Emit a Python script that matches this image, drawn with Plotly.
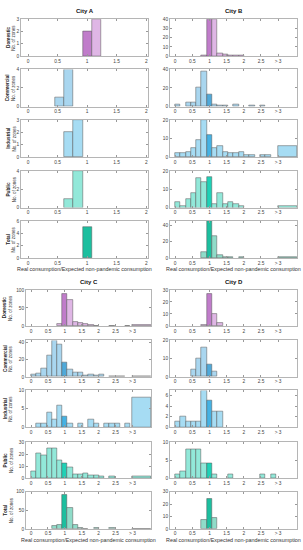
import plotly.graph_objects as go

# ---------------- data ----------------
CITIES = ["City A", "City B", "City C", "City D"]
CATEGORIES = ["Domestic", "Commercial", "Industrial", "Public", "Total"]

BIN_LEFT = [-0.0075, 0.1475, 0.3025, 0.4575, 0.6125, 0.7675, 0.9225, 1.0775, 1.2325, 1.3875,
            1.5425, 1.6975, 1.8525, 2.0075, 2.1625, 2.3175, 2.4725, 2.6275, 2.7825, 3.0]
BIN_RIGHT = [0.1475, 0.3025, 0.4575, 0.6125, 0.7675, 0.9225, 1.0775, 1.2325, 1.3875, 1.5425,
             1.6975, 1.8525, 2.0075, 2.1625, 2.3175, 2.4725, 2.6275, 2.7825, 2.9375, 3.55]
HIGHLIGHT_BIN = 6  # bin containing 1

X_TICKS_AB = [0, 0.5, 1, 1.5, 2, 2.5, 3]
X_TICKTEXT = ["0", "0.5", "1", "1.5", "2", "2.5", "> 3"]
X_TICKS_A = [0, 0.5, 1, 1.5, 2]
X_TICKTEXT_A = ["0", "0.5", "1", "1.5", "2"]

A_DOM = [0, 0, 0, 0, 0, 0, 2, 3, 0, 0, 0, 0, 0, 0, 0, 0, 0, 0, 0, 0]
A_COM = [0, 0, 0, 1, 4, 0, 0, 0, 0, 0, 0, 0, 0, 0, 0, 0, 0, 0, 0, 0]
A_IND = [0, 0, 0, 0, 2, 3, 0, 0, 0, 0, 0, 0, 0, 0, 0, 0, 0, 0, 0, 0]
A_PUB = [0, 0, 0, 0, 1, 4, 0, 0, 0, 0, 0, 0, 0, 0, 0, 0, 0, 0, 0, 0]
A_TOT = [0, 0, 0, 0, 0, 0, 5, 0, 0, 0, 0, 0, 0, 0, 0, 0, 0, 0, 0, 0]

B_DOM = [0, 0, 0, 0, 0, 1, 40, 40, 3, 2, 1, 1, 1, 0, 0, 0, 0, 0, 0, 0]
B_COM = [2, 0, 4, 4, 21, 38, 13, 2, 1, 1, 0, 2, 0, 0, 1, 0, 1, 0, 0, 0]
B_IND = [2, 2, 3, 5, 9, 20, 12, 5, 6, 3, 2, 2, 3, 1, 1, 0, 1, 1, 0, 6]
B_PUB = [3, 1, 5, 8, 16, 14, 17, 2, 8, 2, 3, 2, 1, 0, 0, 0, 0, 0, 0, 1]
B_TOT = [0, 0, 0, 0, 0, 8, 45, 27, 4, 2, 1, 0, 1, 0, 0, 0, 0, 0, 0, 1]

C_DOM = [0, 0, 0, 0, 0, 5, 90, 72, 11, 8, 5, 2, 1, 0, 0, 1, 0, 0, 1, 3]
C_COM = [3, 4, 10, 25, 42, 37, 17, 9, 5, 5, 2, 3, 2, 3, 0, 1, 1, 1, 0, 1]
C_IND = [0, 1, 1, 4, 2, 6, 3, 1, 0, 1, 0, 2, 1, 0, 1, 1, 1, 0, 1, 8]
C_PUB = [6, 21, 19, 25, 25, 15, 12, 9, 3, 3, 4, 2, 2, 1, 0, 1, 0, 0, 0, 1]
C_TOT = [0, 0, 0, 0, 7, 12, 93, 57, 12, 2, 1, 0, 2, 0, 0, 2, 0, 0, 0, 1]

D_DOM = [0, 0, 0, 0, 0, 1, 27, 10, 3, 0, 0, 0, 0, 0, 0, 0, 0, 0, 0, 0]
D_COM = [0, 0, 0, 4, 10, 16, 7, 3, 0, 0, 0, 0, 0, 0, 0, 0, 0, 0, 0, 0]
D_IND = [1, 2, 1, 1, 1, 7, 5, 3, 3, 0, 0, 0, 0, 0, 0, 0, 0, 0, 0, 0]
D_PUB = [1, 2, 8, 8, 8, 4, 4, 1, 0, 0, 1, 0, 0, 0, 0, 0, 1, 0, 1, 0]
D_TOT = [0, 0, 0, 0, 0, 7, 24, 9, 0, 0, 0, 0, 0, 0, 0, 0, 0, 0, 0, 0]

COUNTS = {
    "City A": [A_DOM, A_COM, A_IND, A_PUB, A_TOT],
    "City B": [B_DOM, B_COM, B_IND, B_PUB, B_TOT],
    "City C": [C_DOM, C_COM, C_IND, C_PUB, C_TOT],
    "City D": [D_DOM, D_COM, D_IND, D_PUB, D_TOT],
}
Y_MAX = {
    "City A": [3, 4, 3, 4, 6],
    "City B": [40, 40, 20, 20, 45],
    "City C": [100, 42, 10, 30, 100],
    "City D": [30, 20, 7, 10, 30],
}
Y_DTICK = {
    "City A": [1, 2, 1, 2, 2],
    "City B": [10, 20, 10, 10, 20],
    "City C": [50, 20, 5, 10, 50],
    "City D": [10, 10, 2, 5, 10],
}

# ---------------- style ----------------
LIGHT = ["#dfb6e5", "#a9d6ef", "#a6dcf3", "#92e8d9", "#8fdcc9"]
DARK = ["#c07cca", "#4fa9d9", "#45b2e3", "#1fd1b6", "#1cbf9f"]

W, H = 303, 550
X_PIX = {"City A": (21, 148), "City B": (170, 297), "City C": (26, 151), "City D": (170, 297)}
ROWS_TOP = [(17.5, 54.5), (68, 105.5), (119, 156.5), (170.5, 207.5), (221, 258.5)]
ROWS_BOT = [(290.5, 327), (341.5, 378.3), (392, 429), (444.3, 480.3), (494.3, 531.7)]
ROWS = {"City A": ROWS_TOP, "City B": ROWS_TOP, "City C": ROWS_BOT, "City D": ROWS_BOT}
FONT = "Liberation Sans, Arial, sans-serif"

centers = [(l + r) / 2 for l, r in zip(BIN_LEFT, BIN_RIGHT)]
widths = [r - l for l, r in zip(BIN_LEFT, BIN_RIGHT)]

fig = go.Figure()
layout = {}
annotations = []
n = 0
for city in CITIES:
    x0, x1 = X_PIX[city]
    for ci, cat in enumerate(CATEGORIES):
        n += 1
        ax = "" if n == 1 else str(n)
        counts = COUNTS[city][ci]
        xs, ys, ws, cols = [], [], [], []
        for i, c in enumerate(counts):
            if c > 0:
                xs.append(centers[i]); ys.append(c); ws.append(widths[i])
                cols.append(DARK[ci] if i == HIGHLIGHT_BIN else LIGHT[ci])
        fig.add_trace(go.Bar(x=xs, y=ys, width=ws, marker=dict(color=cols, line=dict(color="#555", width=0.5)),
                             xaxis="x" + ax, yaxis="y" + ax, showlegend=False, hoverinfo="x+y"))
        t, b = ROWS[city][ci]
        is_a = city == "City A"
        layout["xaxis" + ax] = dict(
            domain=[x0 / W, x1 / W], anchor="y" + ax,
            range=[-0.12, 2.03] if is_a else [-0.15, 3.55],
            tickvals=X_TICKS_A if is_a else X_TICKS_AB,
            ticktext=X_TICKTEXT_A if is_a else X_TICKTEXT,
            ticks="inside", ticklen=2, tickwidth=0.5, tickcolor="#999",
            showline=True, linecolor="#b5b5b5", linewidth=0.7, mirror="ticks",
            showgrid=False, zeroline=False,
            tickfont=dict(size=4.8, color="#444", family=FONT),
        )
        layout["yaxis" + ax] = dict(
            domain=[1 - b / H, 1 - t / H], anchor="x" + ax,
            range=[0, Y_MAX[city][ci]], dtick=Y_DTICK[city][ci], tick0=0,
            ticks="inside", ticklen=2, tickwidth=0.5, tickcolor="#999",
            showline=True, linecolor="#b5b5b5", linewidth=0.7, mirror="ticks",
            showgrid=False, zeroline=False,
            tickfont=dict(size=4.8, color="#444", family=FONT),
        )
        if city in ("City A", "City C"):
            ymid = 1 - (t + b) / 2 / H
            off = 0 if city == "City A" else -3
            annotations.append(dict(text="<b>" + cat + "</b>", x=(8.3 + off) / W, y=ymid, xref="paper", yref="paper",
                                    textangle=-90, showarrow=False, font=dict(size=4.7, color="#222", family=FONT),
                                    xanchor="center", yanchor="middle"))
            annotations.append(dict(text="No. of zones", x=(14 + off) / W, y=ymid, xref="paper", yref="paper",
                                    textangle=-90, showarrow=False, font=dict(size=4.5, color="#333", family=FONT),
                                    xanchor="center", yanchor="middle"))
    # title
    top = ROWS[city][0][0]
    bot = ROWS[city][4][1]
    annotations.append(dict(text="<b>" + city + "</b>", x=(x0 + x1) / 2 / W, y=1 - (top - 8) / H,
                            xref="paper", yref="paper", showarrow=False,
                            font=dict(size=6, color="#111", family=FONT), xanchor="center", yanchor="middle"))
    annotations.append(dict(text="Real consumption/Expected non-pandemic consumption", x=(x0 + x1) / 2 / W,
                            y=1 - (bot + 11) / H, xref="paper", yref="paper", showarrow=False,
                            font=dict(size=5.4, color="#333", family=FONT), xanchor="center", yanchor="middle"))

fig.update_layout(**layout)
fig.update_layout(width=W, height=H, margin=dict(l=0, r=0, t=0, b=0), paper_bgcolor="white",
                  plot_bgcolor="white", bargap=0, annotations=annotations, font=dict(family=FONT))
fig.write_html("out.html", config={"displayModeBar": False},
               post_script="document.body.style.margin='0';document.body.style.overflow='hidden';")
